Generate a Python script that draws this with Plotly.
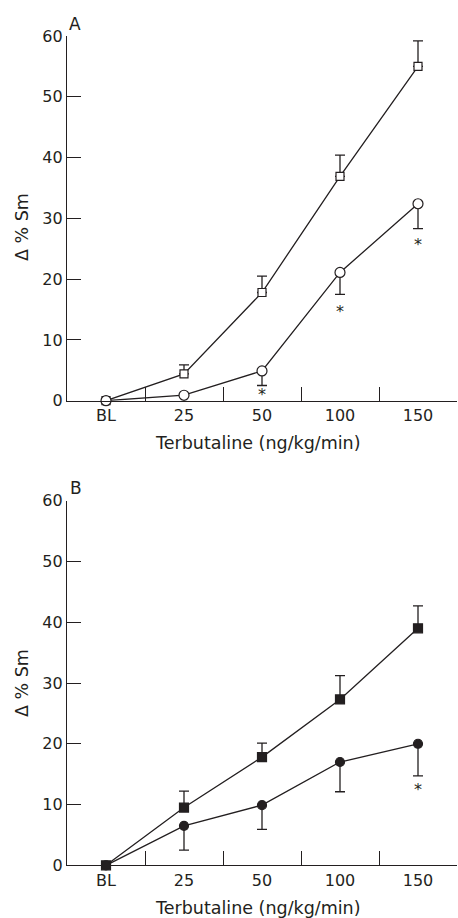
import plotly.graph_objects as go

categories = ["BL", "25", "50", "100", "150"]

# Panel A
a_square = [0, 4.4, 17.8, 36.9, 55.0]
a_square_err = [0, 1.5, 2.7, 3.5, 4.2]
a_circle = [0, 0.9, 4.9, 21.1, 32.4]
a_circle_err = [0, 1.5, 2.4, 3.6, 4.1]
a_star_cats = ["50", "100", "150"]
a_star_y = [0.7, 14.5, 25.5]

# Panel B
b_square = [0, 9.5, 17.8, 27.3, 39.0]
b_square_err = [0, 2.7, 2.3, 3.9, 3.7]
b_circle = [0, 6.5, 9.9, 17.0, 20.0]
b_circle_err = [0, 4.0, 4.0, 4.9, 5.3]
b_star_cats = ["150"]
b_star_y = [12.2]

y_ticks = [0, 10, 20, 30, 40, 50, 60]

FONT = "DejaVu Sans"
INK = "#231f20"
W, H = 458, 918

fig = go.Figure()


def add_panel(xa, ya, sq, sq_err, ci, ci_err, star_c, star_y, filled):
    fill = INK if filled else "white"
    fig.add_trace(go.Scatter(
        x=categories, y=sq, xaxis=xa, yaxis=ya, mode="lines+markers",
        line=dict(color=INK, width=1.3),
        marker=dict(symbol="square", size=8 if not filled else 9, color=fill,
                    line=dict(color=INK, width=1.2)),
        error_y=dict(type="data", array=sq_err, arrayminus=[0] * len(sq_err),
                     color=INK, thickness=1.3, width=5),
        cliponaxis=False, showlegend=False, hoverinfo="skip"))
    fig.add_trace(go.Scatter(
        x=categories, y=ci, xaxis=xa, yaxis=ya, mode="lines+markers",
        line=dict(color=INK, width=1.3),
        marker=dict(symbol="circle", size=10 if not filled else 9, color=fill,
                    line=dict(color=INK, width=1.2)),
        error_y=dict(type="data", array=[0] * len(ci_err), arrayminus=ci_err,
                     color=INK, thickness=1.3, width=5),
        cliponaxis=False, showlegend=False, hoverinfo="skip"))
    fig.add_trace(go.Scatter(
        x=star_c, y=star_y, xaxis=xa, yaxis=ya, mode="text", text=["*"] * len(star_c),
        textfont=dict(family=FONT, size=16, color=INK), textposition="middle center",
        cliponaxis=False, showlegend=False, hoverinfo="skip"))


add_panel("x", "y", a_square, a_square_err, a_circle, a_circle_err, a_star_cats, a_star_y, False)
add_panel("x2", "y2", b_square, b_square_err, b_circle, b_circle_err, b_star_cats, b_star_y, True)

x_dom = [67 / W, 457 / W]
yA = [1 - 400.7 / H, 1 - 36 / H]
yB = [1 - 865.3 / H, 1 - 500.7 / H]

xcommon = dict(type="category", categoryorder="array", categoryarray=categories,
               range=[-0.5, 4.5], tickson="boundaries", ticks="inside", ticklen=14,
               tickwidth=1.2, tickcolor=INK, showline=True, linecolor=INK, linewidth=1.3,
               showgrid=False, zeroline=False, domain=x_dom, automargin=False,
               tickfont=dict(family=FONT, size=16, color=INK))
ycommon = dict(range=[0, 60], tickvals=y_ticks, ticks="inside", ticklen=14,
               tickwidth=1.2, tickcolor=INK, showline=True, linecolor=INK, linewidth=1.3,
               showgrid=False, zeroline=False, automargin=False,
               tickfont=dict(family=FONT, size=16, color=INK))

fig.update_layout(
    template="none",
    width=W, height=H, autosize=False, margin=dict(l=0, r=0, t=0, b=0, pad=0),
    paper_bgcolor="white", plot_bgcolor="white",
    xaxis=dict(xcommon, anchor="y"),
    yaxis=dict(ycommon, domain=yA, anchor="x"),
    xaxis2=dict(xcommon, anchor="y2"),
    yaxis2=dict(ycommon, domain=yB, anchor="x2"),
)

title_font = dict(family=FONT, size=17.5, color=INK)
label_font = dict(family=FONT, size=17, color=INK)
annotations = [
    dict(text="A", x=67 / W, y=1 - 12 / H, xanchor="left", yanchor="top", font=label_font),
    dict(text="B", x=68 / W, y=1 - 476 / H, xanchor="left", yanchor="top", font=label_font),
    dict(text="Δ % Sm", x=22 / W, y=1 - 227 / H, textangle=-90, xanchor="center", yanchor="middle", font=title_font),
    dict(text="Δ % Sm", x=22 / W, y=1 - 683 / H, textangle=-90, xanchor="center", yanchor="middle", font=title_font),
    dict(text="Terbutaline (ng/kg/min)", x=258 / W, y=1 - 443 / H, xanchor="center", yanchor="middle", font=title_font),
    dict(text="Terbutaline (ng/kg/min)", x=258 / W, y=1 - 908 / H, xanchor="center", yanchor="middle", font=title_font),
]
for a in annotations:
    fig.add_annotation(xref="paper", yref="paper", showarrow=False, **a)

fig.write_html("out.html", config={"displayModeBar": False},
               post_script="document.body.style.margin='0';")
